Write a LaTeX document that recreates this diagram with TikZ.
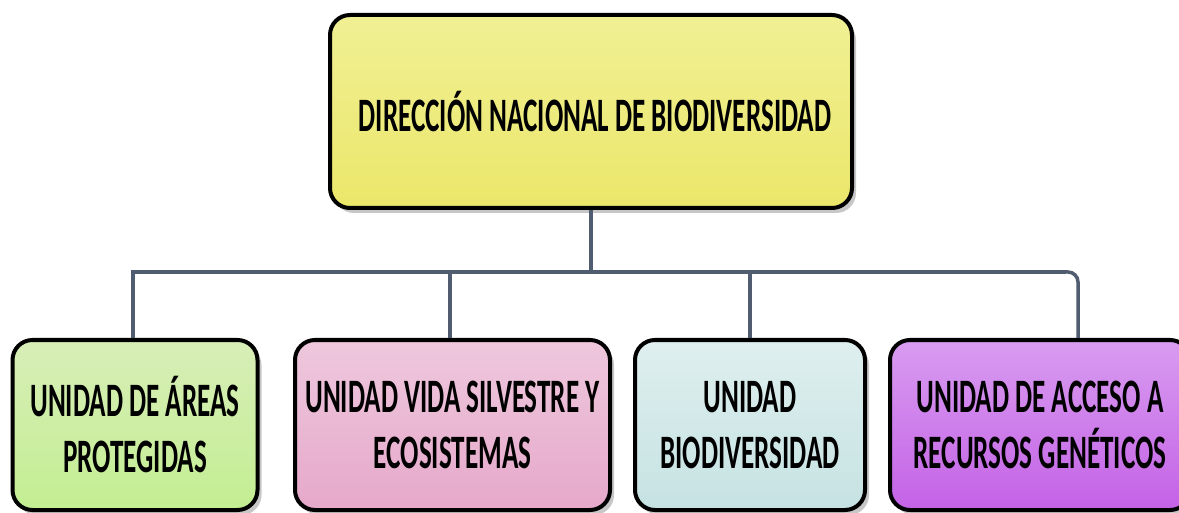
\documentclass[tikz,border=0pt]{standalone}
\usepackage{fontspec}
\newfontfamily\boxfont{Carlito}[FakeStretch=0.565]
\usetikzlibrary{shadows,calc}
\definecolor{conncol}{HTML}{505C70}
\definecolor{ytop}{HTML}{F0F094}
\definecolor{ybot}{HTML}{EBE76A}
\definecolor{gtop}{HTML}{D8EEB8}
\definecolor{gbot}{HTML}{C3EE92}
\definecolor{ptop}{HTML}{EEC8DD}
\definecolor{pbot}{HTML}{E6A8CA}
\definecolor{ctop}{HTML}{DFEFEF}
\definecolor{cbot}{HTML}{C6E2E2}
\definecolor{vtop}{HTML}{D89CF0}
\definecolor{vbot}{HTML}{C462E6}
\tikzset{
  orgbox/.style={draw=black, line width=4pt, rounded corners=20pt,
    align=center, font=\boxfont\bfseries\fontsize{48}{56}\selectfont,
    text=black, inner sep=0pt, shading angle=30,
    drop shadow={shadow xshift=4pt, shadow yshift=-5pt, fill=black!22, opacity=1}},
  conn/.style={draw=conncol, line width=3.5pt},
  busline/.style={draw=conncol, line width=4.5pt}
}
\begin{document}
\begin{tikzpicture}[x=1pt, y=-1pt]
\useasboundingbox (0,0) rectangle (1179,513);
\clip (0,0) rectangle (1179,513);
% top box
\node[orgbox, minimum width=522pt, minimum height=193pt, top color=ytop, bottom color=ybot]
  (top) at (591,111.5) {\hspace*{8pt}\raisebox{-1pt}{DIRECCIÓN NACIONAL DE BIODIVERSIDAD}};
% bottom boxes
\node[orgbox, minimum width=245pt, minimum height=170pt, top color=gtop, bottom color=gbot]
  (b1) at (135,425) {UNIDAD DE ÁREAS\\PROTEGIDAS};
\node[orgbox, minimum width=315pt, minimum height=170pt, top color=ptop, bottom color=pbot]
  (b2) at (452.5,425) {UNIDAD VIDA SILVESTRE Y\\ECOSISTEMAS};
\node[orgbox, minimum width=230pt, minimum height=170pt, top color=ctop, bottom color=cbot]
  (b3) at (750,425) {UNIDAD\\BIODIVERSIDAD};
\node[orgbox, minimum width=300pt, minimum height=170pt, top color=vtop, bottom color=vbot]
  (b4) at (1040,425) {UNIDAD DE ACCESO A\\RECURSOS GENÉTICOS};
% bus coordinates
\coordinate (busL) at (133,272);
\coordinate (busR) at (1078,272);
\coordinate (busM) at (top.south |- busL);
% connectors
\draw[conn] (top.south) -- (busM);
\draw[busline] ($(busL)+(-1.75,0)$) -- ($(busR)+(-12,0)$);
\draw[conn, rounded corners=10pt] ($(busR)+(-14,0)$) -- (busR) -- (busR |- b4.north);
\draw[conn] (busL) -- (busL |- b1.north);
\draw[conn] (busL -| 450,0) -- (450,0 |- b2.north);
\draw[conn] (busL -| b3.north) -- (b3.north);
\end{tikzpicture}
\end{document}
